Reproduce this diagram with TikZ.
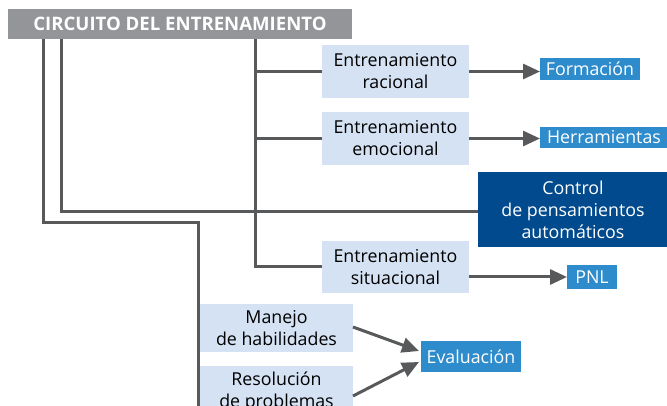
\documentclass[tikz,border=0pt]{standalone}
\usepackage{fontspec}
\setmainfont{Open Sans}
\usetikzlibrary{arrows.meta}
\definecolor{titlegray}{HTML}{939598}
\definecolor{linegray}{HTML}{58595B}
\definecolor{lightbox}{HTML}{D5E2F3}
\definecolor{midblue}{HTML}{2E8CCC}
\definecolor{darkblue}{HTML}{004A8D}
\tikzset{
  every node/.style={inner sep=0pt, outer sep=0pt},
  lightnode/.style={fill=lightbox, text=black, align=center, font=\fontsize{17.8}{22}\selectfont},
  midnode/.style={fill=midblue, text=white, align=center, font=\fontsize{17.8}{22}\selectfont},
  darknode/.style={fill=darkblue, text=white, align=center, font=\fontsize{17.8}{22}\selectfont},
  conn/.style={draw=linegray, line width=3pt},
  arr/.style={conn, -{Triangle[length=17pt,width=15pt]}},
}
\begin{document}
\begin{tikzpicture}[x=1pt,y=-1pt]
\useasboundingbox (0,0) rectangle (667,406);
\clip (0,0) rectangle (667,406);
\node[fill=titlegray, text=white, minimum width=344pt, minimum height=30pt, font=\bfseries\fontsize{18.6}{20}\selectfont] (title) at (180,24) {CIRCUITO DEL ENTRENAMIENTO};
\node[lightnode, minimum width=147pt, minimum height=53pt] (racional) at (395.5,71.5) {Entrenamiento\\racional};
\node[lightnode, minimum width=147pt, minimum height=53pt] (emocional) at (395.5,138.5) {Entrenamiento\\emocional};
\node[lightnode, minimum width=147pt, minimum height=52pt] (situacional) at (395.5,267) {Entrenamiento\\situacional};
\node[darknode, minimum width=190pt, minimum height=75pt] (control) at (573,209.5) {Control\\de pensamientos\\automáticos};
\node[midnode, minimum width=100pt, minimum height=22pt] (formacion) at (590,69) {Formación};
\node[midnode, minimum width=128pt, minimum height=21pt] (herr) at (604,137.5) {Herramientas};
\node[midnode, minimum width=50pt, minimum height=24pt] (pnl) at (592,277) {PNL};
\node[lightnode, minimum width=153pt, minimum height=48pt] (manejo) at (276.5,328) {Manejo\\de habilidades};
\node[lightnode, minimum width=153pt, minimum height=52pt, anchor=north] (resol) at (276.5,366) {Resolución\\de problemas};
\node[midnode, minimum width=100pt, minimum height=31pt] (eval) at (471,356.5) {Evaluación};
% connectors
\coordinate (t1) at (43,39);
\coordinate (t2) at (61,39);
\coordinate (t3) at (255,39);
\coordinate (b1) at (43,223);
\coordinate (b2) at (198,223);
\coordinate (b3) at (198,420);
\coordinate (c1) at (61,212);
\draw[conn] (t3) |- (situacional.west);
\draw[conn] (t3 |- racional.west) -- (racional.west);
\draw[conn] (t3 |- emocional.west) -- (emocional.west);
\draw[conn] (t2) -- (c1) -- (c1 -| control.west);
\draw[conn] (t1) -- (b1) -- (b2) -- (b3);
\draw[arr] (racional.east) -- (formacion.west |- racional.east);
\draw[arr] (emocional.east) -- (herr.west |- emocional.east);
\draw[arr] (situacional.east |- pnl.west) -- (pnl.west);
\draw[arr] (353,327) -- (419,351);
\draw[arr] (353,396) -- (419,362);
\end{tikzpicture}
\end{document}
